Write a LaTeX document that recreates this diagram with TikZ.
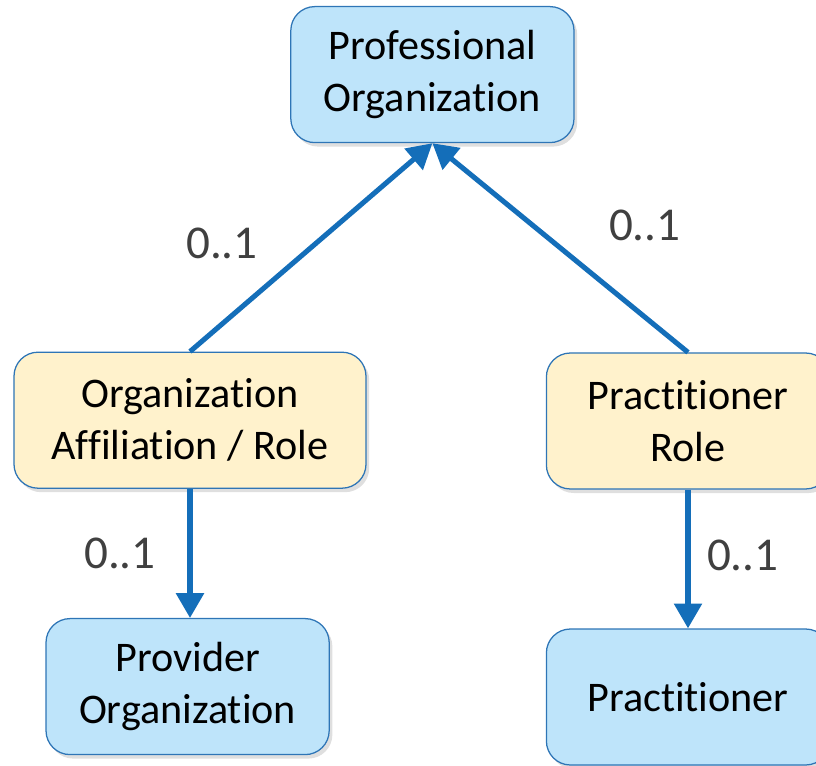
\documentclass[tikz,border=0pt]{standalone}
\usepackage{fontspec}
\setmainfont[RawFeature={-liga,-clig}]{Carlito}
\usetikzlibrary{arrows.meta}
\usetikzlibrary{shadows}
\usetikzlibrary{calc}
\definecolor{boxblue}{RGB}{190,228,250}
\definecolor{boxcream}{RGB}{255,242,204}
\definecolor{edgeblue}{RGB}{46,117,182}
\definecolor{arrowblue}{RGB}{20,110,185}
\definecolor{labelgray}{RGB}{64,64,64}

\begin{document}
\begin{tikzpicture}[>={Triangle[width=0.68cm, length=0.62cm]},
entity/.style={draw=edgeblue, line width=0.9pt, rounded corners=0.6cm, align=center,
  minimum width=7.08cm, minimum height=3.4cm, inner sep=0,
  font=\fontsize{30}{37}\selectfont,
  drop shadow={shadow xshift=0.08cm, shadow yshift=-0.1cm, opacity=0.25}},
basic/.style={entity, fill=boxblue},
role/.style={entity, fill=boxcream},
link/.style={->, arrowblue, line width=3.6pt},
mult/.style={labelgray, font=\fontsize{33.5}{40}\selectfont, inner sep=0},
]

%%%%%%%%%%%%%%%%%%%%%%%% SIZE OF THE PICTURE %%%%%%%%%%%%%%%%%%%%%%%%
\useasboundingbox (0,0) rectangle (20.4,19.125);

%%%%%%%%%%%%%%%%%%%%%%%% BOXES %%%%%%%%%%%%%%%%%%%%%%%%
\node[basic] (prof) at (10.81,17.26) {Professional\\Organization};
\node[role, minimum width=8.8cm] (affil) at (4.75,8.62) {Organization\\Affiliation / Role};
\node[role] (prole) at (17.2,8.6) {Practitioner\\Role};
\node[basic] (provider) at (4.69,1.96) {Provider\\Organization};
\node[basic] (pract) at (17.2,1.7) {Practitioner};

%%%%%%%%%%%%%%%%%%%%%%%% ARROWS %%%%%%%%%%%%%%%%%%%%%%%%
\draw[link] (affil.north) -- (prof.south);
\draw[link] (prole.north) -- (prof.south);
\draw[link] (affil.south) -- (affil.south |- provider.north);
\draw[link] (prole.south) -- (prole.south |- pract.north);

%%%%%%%%%%%%%%%%%%%%%%%% MULTIPLICITIES %%%%%%%%%%%%%%%%%%%%%%%%
\node[mult] (m1) at (5.55,13.05) {0..1};
\node[mult] (m2) at (16.12,13.5) {0..1};
\node[mult] (m3) at (3.0,5.3) {0..1};
\node[mult] (m4) at (18.57,5.25) {0..1};

\end{tikzpicture}
\end{document}
